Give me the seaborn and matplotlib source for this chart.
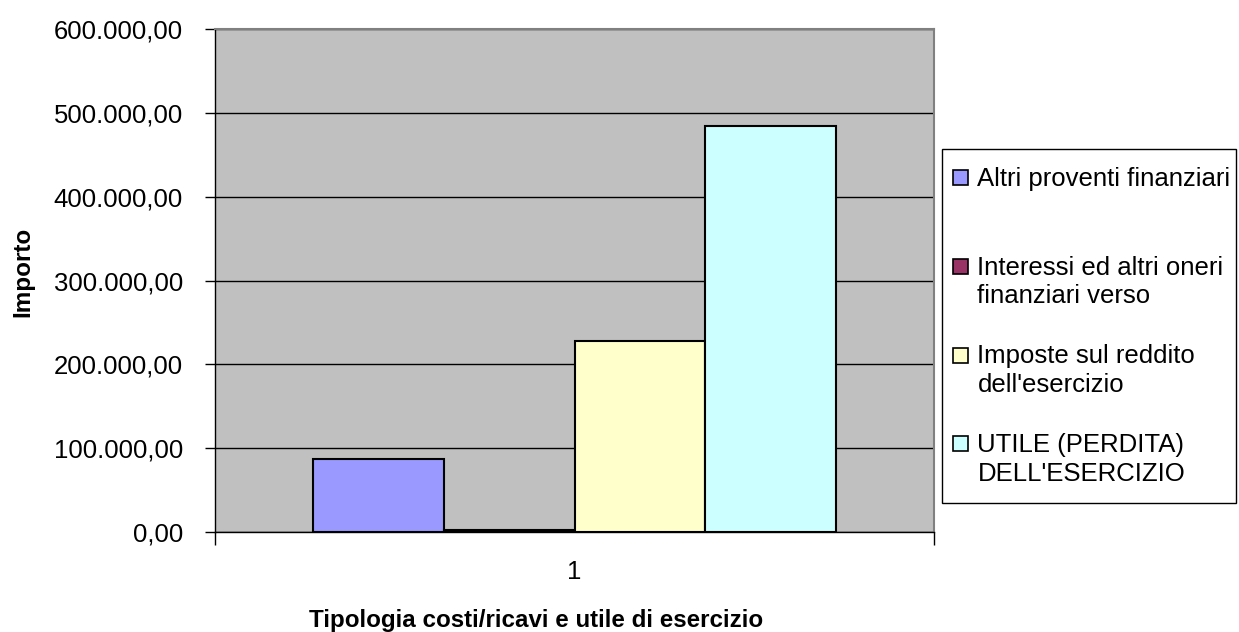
import matplotlib
matplotlib.use("Agg")
import matplotlib.pyplot as plt
import seaborn as sns
import pandas as pd
from matplotlib.patches import Rectangle
from matplotlib.legend_handler import HandlerPatch
from matplotlib.ticker import FuncFormatter

# ---- data ----
categories = ["1"]
series = [
    "Altri proventi finanziari",
    "Interessi ed altri oneri\nfinanziari verso",
    "Imposte sul reddito\ndell'esercizio",
    "UTILE (PERDITA)\nDELL'ESERCIZIO",
]
values = [87000, 2000, 228000, 484000]
colors = ["#9999FF", "#993366", "#FFFFCC", "#CCFFFF"]
yticks = [0, 100000, 200000, 300000, 400000, 500000, 600000]
xlabel = "Tipologia costi/ricavi e utile di esercizio"
ylabel = "Importo"

df = pd.DataFrame({
    "Categoria": categories * len(series),
    "Serie": series,
    "Importo": values,
})

sns.set_theme(style="white")
plt.rcParams['font.family'] = ['Liberation Sans', 'DejaVu Sans']
for k in ["text.color", "axes.labelcolor", "xtick.color", "ytick.color"]:
    plt.rcParams[k] = "black"

W, H = 1239, 632
fig = plt.figure(figsize=(W / 100, H / 100), dpi=100)
ax = fig.add_axes([215 / W, 100 / H, 719 / W, 503 / H])
ax.set_facecolor("#C0C0C0")

sns.barplot(data=df, x="Categoria", y="Importo", hue="Serie", hue_order=series,
            palette=colors, width=0.728, edgecolor="black", linewidth=1.5,
            saturation=1, ax=ax, legend=True)

ax.set_xlim(-0.5, 0.5)
ax.set_ylim(0, 600000)
ax.set_yticks(yticks)


def fmt(v, pos):
    s = f"{v:,.2f}"
    return s.replace(",", "X").replace(".", ",").replace("X", ".")


ax.yaxis.set_major_formatter(FuncFormatter(fmt))
ax.yaxis.grid(True, color="black", linewidth=1)
ax.set_axisbelow(True)

ax.tick_params(axis="y", direction="out", length=7, width=1, color="black",
               labelsize=18.5, pad=16, left=True)
ax.set_xticks([0])
ax.set_xticklabels(categories)
ax.set_xticks([-0.5, 0.5], minor=True)
ax.tick_params(axis="x", which="major", length=0, labelsize=18.5, pad=20)
ax.tick_params(axis="x", which="minor", direction="out", length=9, width=1,
               color="black", bottom=True)

for s in ["left", "bottom"]:
    ax.spines[s].set_color("black")
    ax.spines[s].set_linewidth(1)
for s in ["top", "right"]:
    ax.spines[s].set_color("#808080")
    ax.spines[s].set_linewidth(1.5)

ax.set_xlabel(xlabel, fontsize=17.4, fontweight="bold", labelpad=18)
ax.xaxis.label.set_x((536 - 215) / 719)
ax.set_ylabel(ylabel, fontsize=17.5, fontweight="bold", labelpad=14)
ax.yaxis.label.set_y((532 - 271.5) / 503)


class TopHandler(HandlerPatch):
    def create_artists(self, legend, orig_handle, xdescent, ydescent, width,
                       height, fontsize, trans):
        off = 11.5
        p = Rectangle((-xdescent, -ydescent + off), width, height,
                      facecolor=orig_handle.get_facecolor(),
                      edgecolor="black", linewidth=1.2, transform=trans)
        return [p]


handles, labels = ax.get_legend_handles_labels()
ax.get_legend().remove()
labels = [l if "\n" in l else l + "\n " for l in labels]
leg = fig.legend(handles, labels, loc="upper left",
                 bbox_to_anchor=(953 / W, 1 - 167 / H),
                 fontsize=18.5, frameon=False,
                 borderpad=0, labelspacing=1.4, handlelength=0.6,
                 handleheight=0.52, handletextpad=0.35, borderaxespad=0,
                 handler_map={Rectangle: TopHandler()})
for t in leg.get_texts():
    t.set_linespacing(1.25)

# legend frame
fig.patches.append(Rectangle((942 / W, 1 - 503 / H), 294 / W, 354 / H,
                             transform=fig.transFigure, fill=False,
                             edgecolor="black", linewidth=1))

fig.savefig("out.png", dpi=100)
